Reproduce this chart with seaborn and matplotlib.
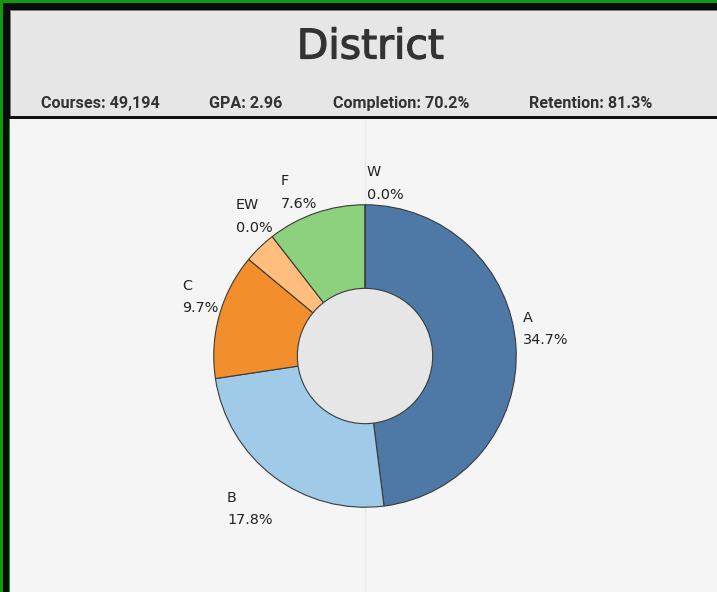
import matplotlib
matplotlib.use("Agg")
import matplotlib.pyplot as plt
from matplotlib.patches import Rectangle, Circle
from matplotlib.lines import Line2D
import matplotlib.patheffects as pe
import seaborn as sns

# ---------------- data ----------------
grades = ["A", "B", "C", "EW", "F", "W"]
wedge_share = [34.7, 17.8, 9.7, 2.5, 7.6, 0.0]
label_pct = [34.7, 17.8, 9.7, 0.0, 7.6, 0.0]        # printed labels
title_text = "District"
courses = 49194
gpa = 2.96
completion = 70.2
retention = 81.3

# ---------------- style / layout ----------------
sns.set_theme(style="white")
plt.rcParams["font.family"] = ["DejaVu Sans"]

grade_colors = sns.color_palette(["#4e79a7", "#a0cbe8", "#f28e2b", "#ffbe7d", "#8cd17d", "#b6992d"])

W, H = 717, 592
fig = plt.figure(figsize=(W / 100, H / 100), dpi=100, facecolor="#f5f5f5")


def fx(x):
    return x / W


def fy(y):
    return 1 - y / H


def rect(x0, y0, x1, y1, color, z=1):
    fig.add_artist(Rectangle((fx(x0), fy(y1)), (x1 - x0) / W, (y1 - y0) / H,
                             transform=fig.transFigure, facecolor=color,
                             edgecolor="none", zorder=z))


# frame
rect(0, 0, W, 3, "#109a10")
rect(0, 0, 3, H, "#109a10")
rect(3, 3, W, 10, "#0a0a0a")
rect(3, 3, 10, H, "#0a0a0a")
rect(9, 119, 10, H, "#109a10")
# header
rect(10, 10, W, 116, "#e6e6e6")
rect(10, 10, W, 11, "#7a7a7a")
rect(10, 10, 11, 116, "#7a7a7a")
rect(10, 116, W, 119, "#111111")

# faint center axis line
fig.add_artist(Line2D([fx(365), fx(365)], [fy(120), fy(H)], transform=fig.transFigure,
                      color="#e9e9e9", lw=1, zorder=-1))

# title & KPIs
fig.text(fx(370.5), fy(58.5), title_text, ha="center", va="baseline",
         fontsize=29.5, color="#333333", family=["DejaVu Sans"],
         path_effects=[pe.withStroke(linewidth=0.9, foreground="#333333")])
kpis = [f"Courses: {courses:,}", f"GPA: {gpa:.2f}",
        f"Completion: {completion:.1f}%", f"Retention: {retention:.1f}%"]
kpi_x = [41, 209, 333, 529]
for t, x in zip(kpis, kpi_x):
    fig.text(fx(x), fy(108), t, ha="left", va="baseline", fontsize=11.6,
             weight="bold", color="#333333", family=["Roboto", "DejaVu Sans"])

# donut
cx, cy, r_out, r_in = 365, 356, 152, 68
ax = fig.add_axes([fx(cx - r_out), fy(cy + r_out), 2 * r_out / W, 2 * r_out / H])
ax.pie(wedge_share, colors=grade_colors, startangle=90, counterclock=False,
       radius=1, wedgeprops=dict(edgecolor="#3a3a3a", linewidth=0.8))
ax.add_patch(Circle((0, 0), r_in / r_out, facecolor="#e6e6e6",
                    edgecolor="#3a3a3a", linewidth=0.8, zorder=5))
ax.set_xlim(-1.005, 1.005)
ax.set_ylim(-1.005, 1.005)
ax.axis("off")
ax.patch.set_alpha(0)

# label anchors (pixels: left x, baseline of first line)
label_pos = {"A": (522.5, 321.5), "B": (227, 501.5), "C": (182, 289.5),
             "EW": (236, 209), "F": (280.5, 185.5), "W": (367, 176.5)}
for g, p in zip(grades, label_pct):
    x, y = label_pos[g]
    fig.text(fx(x), fy(y), g, ha="left", va="baseline", fontsize=10.4, color="#222222")
    fig.text(fx(x), fy(y + 22.8), f"{p:.1f}%", ha="left", va="baseline",
             fontsize=10.4, color="#222222")

fig.savefig("out.png", dpi=100, facecolor=fig.get_facecolor())
